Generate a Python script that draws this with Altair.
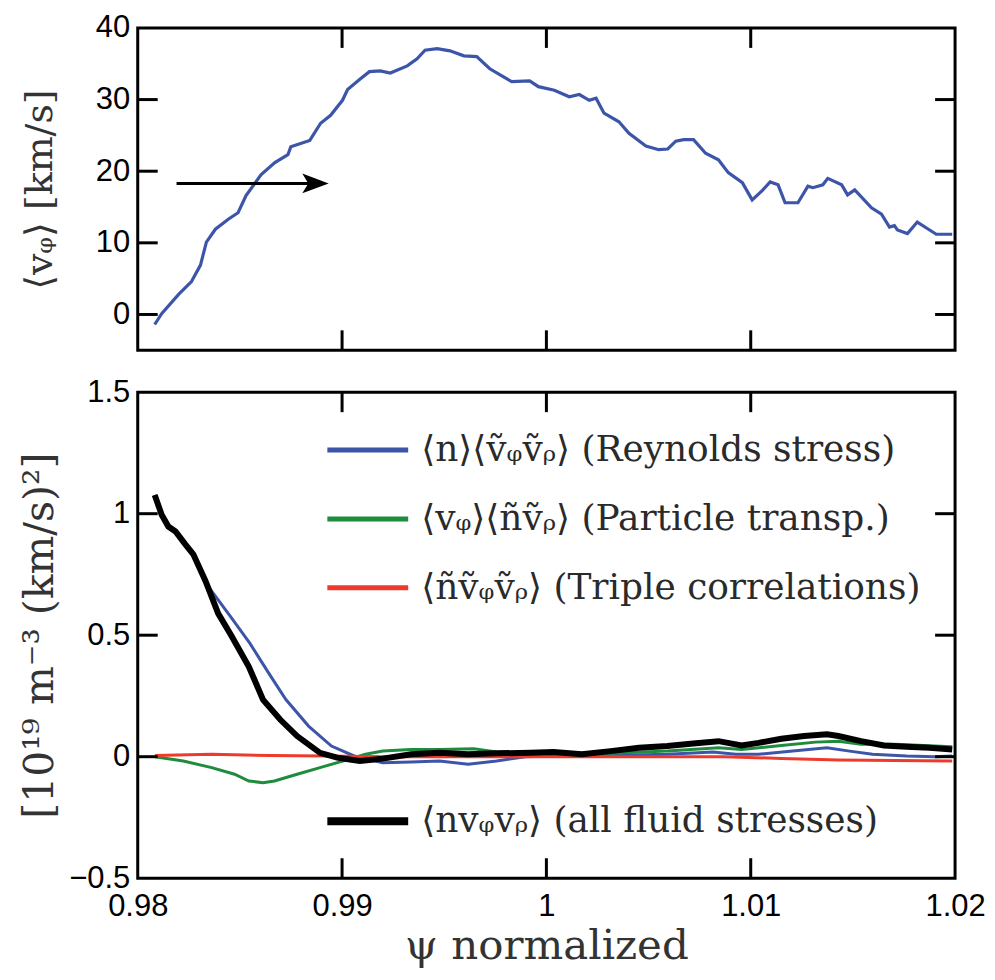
import altair as alt
import pandas as pd

# ---------------- data ----------------
top_x = [0.98083, 0.98117, 0.9820, 0.98263, 0.98307, 0.98336, 0.9838, 0.98443, 0.98491, 0.9853,
         0.98603, 0.98671, 0.98735, 0.98749, 0.98842, 0.98895, 0.98944, 0.99002, 0.99027, 0.9909,
         0.99134, 0.99187, 0.99236, 0.99319, 0.99367, 0.99406, 0.99465, 0.99528, 0.99596, 0.99659,
         0.99723, 0.9983, 0.99918, 0.99961, 1.00039, 1.00112, 1.00161, 1.0021, 1.00243, 1.00282,
         1.00355, 1.00404, 1.00487, 1.0055, 1.00594, 1.00633, 1.00672, 1.0072, 1.00779, 1.00842,
         1.0089, 1.00959, 1.01007, 1.01056, 1.01095, 1.01134, 1.01168, 1.01231, 1.0128, 1.01304,
         1.01353, 1.01377, 1.01445, 1.01474, 1.01509, 1.01591, 1.0164, 1.01679, 1.01703, 1.01718,
         1.01767, 1.01815, 1.01864, 1.01908, 1.01986]
top_v = [-1.4, 0.1, 2.8, 4.6, 6.9, 10.1, 11.9, 13.3, 14.2, 16.6,
         19.5, 21.2, 22.3, 23.4, 24.3, 26.7, 27.8, 29.9, 31.4, 32.9,
         33.9, 34.0, 33.7, 34.7, 35.7, 36.9, 37.1, 36.8, 36.1, 36.0,
         34.3, 32.5, 32.6, 31.8, 31.3, 30.4, 30.7, 29.9, 30.2, 28.1,
         26.9, 25.3, 23.5, 23.0, 23.1, 24.2, 24.4, 24.4, 22.5, 21.6,
         19.8, 18.4, 16.0, 17.3, 18.5, 18.1, 15.6, 15.6, 17.9, 17.7,
         18.1, 19.0, 18.1, 16.7, 17.4, 14.9, 14.0, 12.2, 12.4, 11.8,
         11.3, 12.9, 12.0, 11.2, 11.2]

arrow_x = [0.9819, 0.9887]
arrow_y = 18.3

black_x = [0.98083, 0.98117, 0.9815, 0.98185, 0.98233, 0.98272, 0.98331, 0.98394, 0.98457, 0.98544,
           0.98613, 0.98697, 0.9878, 0.98892, 0.98976, 0.99087, 0.99199, 0.99338, 0.99477, 0.99617,
           0.99756, 0.99923, 1.00035, 1.00174, 1.00314, 1.00453, 1.00592, 1.00732, 1.00843, 1.00955,
           1.01038, 1.0115, 1.01261, 1.01373, 1.01429, 1.0154, 1.01652, 1.01763, 1.01875, 1.01986]
black_y = [1.077, 0.996, 0.947, 0.927, 0.874, 0.833, 0.724, 0.589, 0.500, 0.370,
           0.235, 0.153, 0.085, 0.016, -0.004, -0.018, -0.008, 0.010, 0.016, 0.010,
           0.014, 0.016, 0.019, 0.010, 0.023, 0.037, 0.044, 0.055, 0.064, 0.046,
           0.057, 0.074, 0.085, 0.092, 0.085, 0.064, 0.046, 0.041, 0.037, 0.030]

blue_x = [0.98083, 0.98117, 0.9815, 0.98185, 0.98233, 0.98272, 0.98331, 0.9836, 0.98457, 0.98550,
          0.98641, 0.98725, 0.98836, 0.98948, 0.99059, 0.99199, 0.99338, 0.99477, 0.99617, 0.99756,
          0.99896, 1.00035, 1.00314, 1.00592, 1.00815, 1.00927, 1.01038, 1.01206, 1.01373, 1.01484,
          1.01596, 1.01763, 1.01903, 1.01986]
blue_y = [1.077, 0.990, 0.947, 0.927, 0.874, 0.833, 0.724, 0.683, 0.573, 0.465,
          0.344, 0.235, 0.126, 0.044, 0.003, -0.025, -0.022, -0.018, -0.031, -0.018,
          0.000, 0.003, 0.005, 0.010, 0.019, 0.010, 0.010, 0.023, 0.037, 0.023,
          0.010, 0.003, 0.000, 0.003]

green_x = [0.98084, 0.98223, 0.98362, 0.98474, 0.98544, 0.98613, 0.98669, 0.9878, 0.98892, 0.99003,
           0.99115, 0.99199, 0.99338, 0.99477, 0.99645, 0.99756, 0.99896, 1.00035, 1.00314, 1.00592,
           1.00843, 1.00955, 1.0115, 1.01317, 1.01429, 1.0154, 1.01707, 1.01847, 1.01986]
green_y = [0.000, -0.018, -0.045, -0.072, -0.100, -0.107, -0.100, -0.072, -0.045, -0.018,
           0.010, 0.023, 0.030, 0.030, 0.033, 0.019, 0.016, 0.014, 0.014, 0.023,
           0.037, 0.030, 0.046, 0.060, 0.064, 0.051, 0.051, 0.046, 0.041]

red_x = [0.98084, 0.98362, 0.98641, 0.9892, 0.99199, 0.99756, 1.00314, 1.00871, 1.0115, 1.01429, 1.01986]
red_y = [0.005, 0.010, 0.005, 0.003, 0.000, 0.000, 0.000, 0.000, -0.007, -0.014, -0.018]

x_ticks = [0.98, 0.99, 1.0, 1.01, 1.02]
y1_ticks = [0, 10, 20, 30, 40]
y2_ticks = [-0.5, 0, 0.5, 1, 1.5]

legend_labels = ["⟨n⟩⟨ṽᵩṽᵨ⟩ (Reynolds stress)",
                 "⟨vᵩ⟩⟨ñṽᵨ⟩ (Particle transp.)",
                 "⟨ñṽᵩṽᵨ⟩ (Triple correlations)",
                 "⟨nvᵩvᵨ⟩ (all fluid stresses)"]
series_colors = ["#3d55a8", "#1e8c3c", "#ee3a2c", "#000000"]

# ---------------- layout / style ----------------
W = 819
H1 = 323
H2 = 487
SANS = "Liberation Sans"
SERIF = "DejaVu Serif"
TICK = 20

x_scale = alt.Scale(domain=[0.98, 1.02], nice=False, zero=False)
y1_scale = alt.Scale(domain=[-5, 40], nice=False, zero=False)
y2_scale = alt.Scale(domain=[-0.5, 1.5], nice=False, zero=False)

common = dict(ticks=False, domain=False, grid=False, labelFont=SANS, labelFontSize=31,
              labelColor="black", labelFlush=False, labelOverlap=False,
              titleFont=SERIF, titleFontWeight="normal", titleColor="#333333")

x_top_axis = None
y1_axis = alt.Axis(values=y1_ticks, labelPadding=8, title="⟨vᵩ⟩ [km/s]", titleFontSize=38,
                   titleX=-97, titleY=H1 / 2, titleBaseline="middle", titleAlign="center",
                   titleAngle=270, **common)
x_bot_axis = alt.Axis(values=x_ticks, format="~g", labelPadding=13, title="ψ normalized",
                      titleFontSize=42, titlePadding=4, **common)
y2_axis = alt.Axis(values=y2_ticks, format="~g", labelPadding=8, title="[10¹⁹ m⁻³ (km/s)²]",
                   titleFontSize=41, titleX=-97, titleY=H2 / 2, titleBaseline="middle",
                   titleAlign="center", titleAngle=270, **common)


def inner_ticks(xvals, yvals, xaxis, yaxis, yscale, H):
    dfx = pd.DataFrame({"t": xvals})
    dfy = pd.DataFrame({"t": yvals})
    layers = []
    for y0, y1 in [(0, TICK), (H - TICK, H)]:
        layers.append(alt.Chart(dfx).mark_rule(color="black", strokeWidth=3).encode(
            x=alt.X("t:Q", scale=x_scale, axis=xaxis), y=alt.value(y0), y2=alt.value(y1)))
    for x0, x1 in [(0, TICK), (W - TICK, W)]:
        layers.append(alt.Chart(dfy).mark_rule(color="black", strokeWidth=3).encode(
            y=alt.Y("t:Q", scale=yscale, axis=yaxis), x=alt.value(x0), x2=alt.value(x1)))
    return layers


# ---------------- top panel ----------------
top_df = pd.DataFrame({"psi": top_x, "v": top_v})
top_line = alt.Chart(top_df).mark_line(color="#3d55a8", strokeWidth=3.2).encode(
    x=alt.X("psi:Q", scale=x_scale, axis=x_top_axis),
    y=alt.Y("v:Q", scale=y1_scale, axis=y1_axis),
)

arrow_df = pd.DataFrame({"x0": [arrow_x[0]], "x1": [arrow_x[1]], "y": [arrow_y]})
arrow_shaft = alt.Chart(arrow_df).mark_rule(color="black", strokeWidth=3).encode(
    x=alt.X("x0:Q", scale=x_scale, axis=x_top_axis), x2="x1:Q",
    y=alt.Y("y:Q", scale=y1_scale, axis=y1_axis))
arrow_head = alt.Chart(arrow_df).mark_point(
    shape="M -1 -0.75 L 1 0 L -1 0.75 L -0.55 0 Z", filled=True, color="black",
    opacity=1, size=700).encode(
    x=alt.X("x1:Q", scale=x_scale, axis=x_top_axis),
    y=alt.Y("y:Q", scale=y1_scale, axis=y1_axis))

top = alt.layer(top_line, arrow_shaft, arrow_head,
                *inner_ticks(x_ticks[1:-1], y1_ticks[:-1], x_top_axis, y1_axis, y1_scale, H1)
                ).properties(width=W, height=H1)

# ---------------- bottom panel ----------------
series = [(blue_x, blue_y, series_colors[0], 3),
          (green_x, green_y, series_colors[1], 3),
          (red_x, red_y, series_colors[2], 3),
          (black_x, black_y, series_colors[3], 6)]

bottom_layers = []
for xs, ys, col, sw in series:
    df = pd.DataFrame({"psi": xs, "val": ys})
    bottom_layers.append(alt.Chart(df).mark_line(color=col, strokeWidth=sw).encode(
        x=alt.X("psi:Q", scale=x_scale, axis=x_bot_axis),
        y=alt.Y("val:Q", scale=y2_scale, axis=y2_axis)))

legend_rows = [58, 127, 196, 430]
legend_widths = [5, 5, 5, 8]
for lab, col, ry, lw in zip(legend_labels, series_colors, legend_rows, legend_widths):
    ldf = pd.DataFrame({"label": [lab]})
    bottom_layers.append(alt.Chart(ldf).mark_rule(color=col, strokeWidth=lw).encode(
        x=alt.value(190), x2=alt.value(271), y=alt.value(ry)))
    bottom_layers.append(alt.Chart(ldf).mark_text(
        font=SERIF, fontSize=36, color="#2a2a2a", align="left", baseline="middle").encode(
        text="label:N", x=alt.value(284), y=alt.value(ry)))

bottom = alt.layer(*bottom_layers,
                   *inner_ticks(x_ticks[1:-1], y2_ticks[1:-1], x_bot_axis, y2_axis, y2_scale, H2)
                   ).properties(width=W, height=H2)

chart = alt.vconcat(top, bottom, spacing=42, bounds="flush").properties(
    padding={"left": 10, "top": 1, "right": 0, "bottom": 0}
).configure_view(stroke="black", strokeWidth=3)

chart.save("out.html", embed_options={"renderer": "svg", "actions": False})
